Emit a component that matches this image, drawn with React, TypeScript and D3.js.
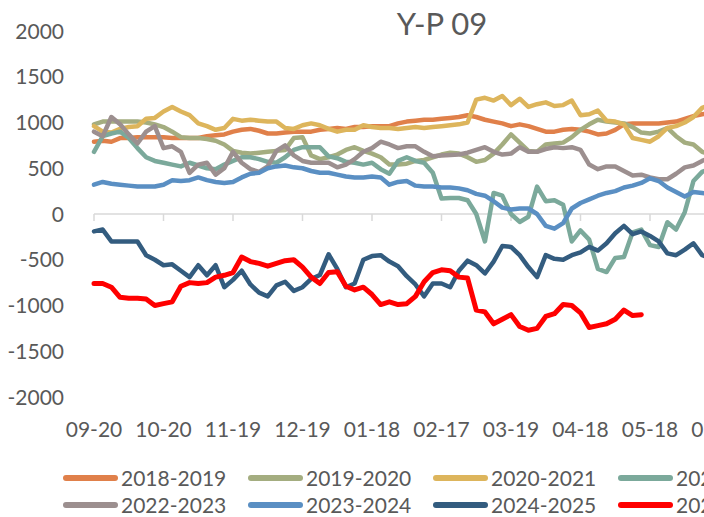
import React from 'react';
import * as d3 from 'd3';

const width = 704;
const height = 517;
const margin = { top: 31, bottom: 397, left: 94 };

// one tick label every 8 points
const dateLabels = ['09-20', '10-20', '11-19', '12-19', '01-18', '02-17', '03-19', '04-18', '05-18', '06-17'];
const yTicks = [-2000, -1500, -1000, -500, 0, 500, 1000, 1500, 2000];

const seriesNames = ['2018-2019', '2019-2020', '2020-2021', '2021-2022', '2022-2023', '2023-2024', '2024-2025', '2025-2026'];
const seriesColors = ['#E0804A', '#A4AD80', '#DDB55C', '#7BA99B', '#9C8F8F', '#5A8FC3', '#335C7F', '#FF0000'];

const s2018 = [790, 800, 790, 830, 830, 840, 840, 840, 840, 830, 830, 830, 830, 850, 860, 870, 900, 920, 930, 910,
    880, 880, 890, 900, 900, 900, 920, 930, 940, 930, 950, 950, 960, 960, 960, 990, 1010, 1020, 1030, 1030,
    1040, 1050, 1060, 1080, 1060, 1030, 1010, 990, 960, 980, 960, 930, 900, 900, 920, 930, 920, 900, 870, 880,
    920, 980, 990, 990, 990, 990, 1000, 1010, 1040, 1070, 1090, 1100];
const s2019 = [980, 1010, 1010, 1010, 1010, 1010, 1000, 980, 950, 900, 840, 830, 830, 820, 800, 760, 690, 670, 660, 670,
    680, 690, 700, 830, 840, 640, 600, 620, 650, 700, 730, 690, 660, 620, 540, 540, 550, 580, 590, 620,
    650, 670, 660, 620, 570, 590, 660, 760, 870, 780, 690, 680, 760, 770, 780, 840, 920, 980, 1030, 1010,
    1000, 990, 950, 890, 880, 900, 940, 850, 780, 760, 680, 650];
const s2020 = [960, 900, 890, 930, 950, 960, 1040, 1050, 1120, 1170, 1120, 1080, 990, 960, 920, 940, 1040, 1020, 1030, 1020,
    1010, 1010, 940, 930, 970, 990, 970, 930, 900, 920, 920, 970, 950, 940, 940, 930, 940, 950, 940, 950,
    960, 970, 980, 1000, 1250, 1270, 1240, 1290, 1190, 1260, 1170, 1200, 1220, 1180, 1190, 1240, 1080, 1090, 1130, 1020,
    1010, 980, 830, 810, 790, 850, 940, 960, 1000, 1060, 1160, 1200];
const s2021 = [680, 850, 880, 900, 830, 720, 620, 580, 560, 540, 520, 560, 530, 500, 490, 540, 580, 620, 620, 600,
    570, 560, 620, 700, 730, 730, 730, 630, 610, 570, 560, 540, 560, 490, 440, 580, 620, 580, 560, 450,
    170, 175, 175, 150, 0, -300, 230, 200, 0, -87, -30, 300, 140, 150, 100, -300, -180, -280, -600, -634,
    -480, -470, -200, -170, -340, -360, -90, -170, 20, 360, 460, 500];
const s2022 = [900, 850, 1060, 980, 870, 770, 900, 960, 720, 740, 680, 450, 540, 560, 430, 500, 680, 560, 490, 460,
    520, 690, 750, 640, 580, 560, 560, 560, 510, 540, 600, 680, 720, 790, 760, 720, 740, 740, 680, 630,
    640, 645, 650, 670, 700, 730, 680, 650, 660, 730, 680, 680, 710, 730, 720, 730, 700, 540, 490, 520,
    520, 470, 420, 430, 400, 380, 380, 440, 510, 530, 580, 620];
const s2023 = [320, 350, 330, 320, 310, 300, 300, 300, 320, 370, 360, 370, 400, 370, 350, 340, 350, 400, 440, 450,
    500, 520, 530, 510, 500, 470, 450, 450, 430, 410, 400, 400, 410, 400, 320, 350, 360, 310, 300, 300,
    290, 290, 280, 260, 220, 200, 140, 70, 50, 60, 60, 0, -130, -160, -100, 60, 120, 160, 200, 230,
    250, 290, 310, 340, 390, 360, 290, 240, 190, 240, 230, 220];
const s2024 = [-190, -170, -300, -300, -300, -300, -450, -500, -560, -550, -620, -690, -560, -670, -560, -800, -720, -620, -770, -860,
    -900, -780, -740, -840, -800, -710, -667, -440, -600, -800, -760, -500, -460, -450, -520, -570, -680, -770, -900, -760,
    -760, -800, -620, -510, -560, -650, -520, -350, -360, -450, -580, -690, -450, -490, -500, -450, -420, -360, -400, -320,
    -210, -130, -220, -190, -240, -300, -430, -450, -390, -320, -450, -480];
const s2025 = [-760, -760, -800, -910, -920, -920, -930, -1000, -980, -960, -790, -750, -760, -750, -690, -670, -640, -470, -520, -540,
    -570, -540, -510, -500, -580, -690, -760, -640, -630, -790, -830, -800, -880, -990, -960, -990, -980, -900, -740, -640,
    -610, -620, -690, -700, -1050, -1070, -1200, -1150, -1100, -1230, -1270, -1250, -1120, -1090, -990, -1000, -1080, -1240, -1220, -1200,
    -1150, -1050, -1110, -1100];

const seriesValues = [s2018, s2019, s2020, s2021, s2022, s2023, s2024, s2025];

const xScale = d3.scaleLinear().domain([0, 80]).range([margin.left, 789]);
const yScale = d3.scaleLinear().domain([-2000, 2000]).range([margin.bottom, margin.top]);

const lineGen = d3.line<number>()
    .x((d, i) => xScale(i))
    .y(d => yScale(d));

const font = "Lato, 'Open Sans', sans-serif";
const textColor = '#595959';

export default function App() {
    const zeroY = yScale(0);
    return (
        <div style={{ position: 'absolute', left: 0, top: 0, width, height, overflow: 'hidden', background: '#fff' }}>
            <svg width={width} height={height} style={{ display: 'block', fontFamily: font }}>
                <text x={442} y={35} textAnchor="middle" fontSize={31} fill={textColor}>Y-P 09</text>

                {yTicks.map(t => (
                    <text key={t} x={64} y={yScale(t)} dy="0.36em" textAnchor="end" fontSize={21} fill={textColor}>
                        {t}
                    </text>
                ))}

                <line x1={xScale(0)} x2={width} y1={zeroY} y2={zeroY} stroke="#D9D9D9" strokeWidth={1.5} />
                {dateLabels.map((lab, i) => (
                    <g key={lab}>
                        <line x1={xScale(i * 8)} x2={xScale(i * 8)} y1={zeroY} y2={zeroY + 7} stroke="#D9D9D9" strokeWidth={1.5} />
                        <text x={xScale(i * 8)} y={437} textAnchor="middle" fontSize={21} fill={textColor}>{lab}</text>
                    </g>
                ))}

                {seriesValues.map((vals, i) => (
                    <path
                        key={seriesNames[i]}
                        d={lineGen(vals) || ''}
                        fill="none"
                        stroke={seriesColors[i]}
                        strokeWidth={i === 7 ? 5 : 4.5}
                        strokeLinejoin="round"
                        strokeLinecap="round"
                    />
                ))}

                {seriesNames.map((name, i) => {
                    const lx = 63 + (i % 4) * 185;
                    const ly = 478 + Math.floor(i / 4) * 27;
                    return (
                        <g key={name}>
                            <line x1={lx + 3} x2={lx + 52} y1={ly} y2={ly} stroke={seriesColors[i]} strokeWidth={6} strokeLinecap="round" />
                            <text x={lx + 58} y={ly} dy="0.36em" fontSize={21} fill={textColor}>{name}</text>
                        </g>
                    );
                })}
            </svg>
        </div>
    );
}
